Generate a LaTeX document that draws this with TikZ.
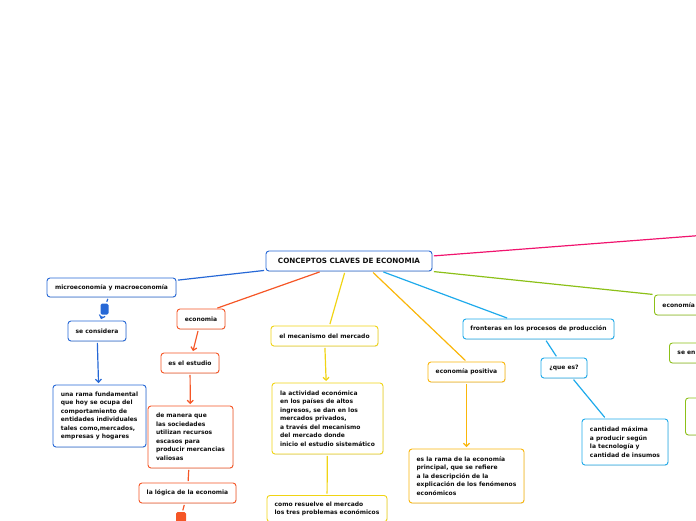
\documentclass[tikz,border=0pt]{standalone}
\usepackage{fontspec}
\setmainfont{DejaVu Sans}
\usetikzlibrary{arrows.meta,shadows}

\definecolor{cmblue}{RGB}{38,104,214}
\definecolor{cmorange}{RGB}{245,86,38}
\definecolor{cmyellow}{RGB}{240,212,20}
\definecolor{cmgold}{RGB}{250,182,10}
\definecolor{cmsky}{RGB}{30,170,235}
\definecolor{cmgreen}{RGB}{140,192,24}
\definecolor{cmpink}{RGB}{240,20,110}
\definecolor{cmtext}{RGB}{15,15,15}

\begin{document}
\begin{tikzpicture}[x=1pt, y=-1pt, font=\fontsize{6}{8.5}\selectfont\bfseries,
  topic/.style={draw, rounded corners=3pt, line width=0.9pt, fill=white, text=cmtext, align=left, inner sep=0pt, drop shadow={shadow xshift=0.5pt, shadow yshift=-0.8pt, opacity=0.2}},
  edge/.style={topic, anchor=west, inner xsep=8pt, inner ysep=0pt, minimum height=20pt},
  marker/.style={rounded corners=1.5pt, inner sep=0pt},
  link/.style={line width=1.2pt, shorten <=1.5pt, shorten >=1.5pt},
  arr/.style={link, -{Straight Barb[length=3pt, width=6pt]}}]
\useasboundingbox (0,0) rectangle (696,520);
\clip (0,0) rectangle (696,520);
% central topic
\node[topic, draw=cmblue, minimum width=166pt, minimum height=20pt, font=\fontsize{7.2}{8.5}\selectfont\bfseries] (root) at (349,261) {CONCEPTOS CLAVES DE ECONOMIA};
% blue branch
\node[topic, draw=cmblue, minimum width=129pt, minimum height=19pt] (micro) at (111.5,287.5) {microeconomía y macroeconomía};
\node[marker, fill=cmblue, minimum width=8pt, minimum height=11pt] (mk1) at (104.5,309) {};
\node[topic, draw=cmblue, minimum width=58pt, minimum height=20pt] (secons) at (97,331) {se considera};
\node[topic, draw=cmblue, minimum width=93pt, minimum height=62pt] (rama) at (99.5,416) {una rama fundamental\\que hoy se ocupa del\\comportamiento de\\entidades individuales\\tales como,mercados,\\empresas y hogares};
% orange branch
\node[topic, draw=cmorange, minimum width=48pt, minimum height=20pt] (econ) at (201,319) {economia};
\node[topic, draw=cmorange, minimum width=58pt, minimum height=20pt] (estudio) at (190,363) {es el estudio};
\node[topic, draw=cmorange, minimum width=85pt, minimum height=62pt] (manera) at (190.5,437) {de manera que\\las sociedades\\utilizan recursos\\escasos para\\producir mercancias\\valiosas};
\node[topic, draw=cmorange, minimum width=97pt, minimum height=20pt] (logica) at (187.5,493) {la lógica de la economia};
\node[marker, fill=cmorange, minimum width=10pt, minimum height=10pt] (mk2) at (181,517) {};
% yellow branch
\node[topic, draw=cmyellow, minimum width=107pt, minimum height=20pt] (mecan) at (324.5,336) {el mecanismo del mercado};
\node[topic, draw=cmyellow, minimum width=111pt, minimum height=71pt] (activ) at (327.5,418.5) {la actividad económica\\en los países de altos\\ingresos, se dan en los\\mercados privados,\\a través del mecanismo\\del mercado donde\\inicio el estudio sistemático};
\node[topic, draw=cmyellow, anchor=north, minimum width=120pt, inner ysep=6pt] (resuel) at (327,495) {como resuelve el mercado\\los tres problemas económicos};
% gold branch
\node[topic, draw=cmgold, minimum width=77pt, minimum height=20pt] (positiva) at (466.5,372) {economía positiva};
\node[topic, draw=cmgold, minimum width=115pt, minimum height=54pt] (ramapos) at (466.5,476) {es la rama de la economía\\principal, que se refiere\\a la descripción de la\\explicación de los fenómenos\\económicos};
% sky branch
\node[topic, draw=cmsky, minimum width=151pt, minimum height=20pt] (front) at (538.5,329) {fronteras en los procesos de producción};
\node[topic, draw=cmsky, minimum width=46pt, minimum height=20pt] (quees) at (564,368) {¿que es?};
\node[topic, draw=cmsky, minimum width=86pt, minimum height=46pt] (cantidad) at (625,442) {cantidad máxima\\a producir según\\la tecnología y\\cantidad de insumos};
% green branch (runs off the page)
\node[edge, draw=cmgreen, text width=60pt] (grecon) at (654,305) {economía};
\node[edge, draw=cmgreen, text width=60pt] (seen) at (669,353) {se en};
\node[edge, draw=cmgreen, text width=60pt, minimum height=37pt] (grbox) at (685,416.5) {};
\coordinate (pinkend) at (700,235.5);
% connectors
\draw[link, cmblue] (root) -- (micro);
\draw[link, cmorange] ([xshift=-28pt]root.south) -- ([xshift=15pt]econ.north);
\draw[link, cmyellow] ([xshift=-4pt]root.south) -- ([xshift=5pt]mecan.north);
\draw[link, cmgold] ([xshift=23pt]root.south) -- (positiva.north);
\draw[link, cmsky] ([xshift=33pt]root.south) -- ([xshift=-30pt]front.north);
\draw[link, cmgreen] (root.south east) -- (grecon.north west);
\draw[link, cmpink] ([yshift=5pt]root.east) -- (pinkend);
\draw[link, cmblue] (micro) -- (mk1); \draw[arr, cmblue] (mk1) -- (secons); \draw[arr, cmblue] (secons) -- (rama);
\draw[arr, cmorange] (econ) -- (estudio); \draw[arr, cmorange] (estudio) -- (manera);
\draw[link, cmorange] (manera) -- (logica); \draw[link, cmorange] (logica) -- (mk2);
\draw[arr, cmyellow] (mecan) -- (activ); \draw[link, cmyellow] (activ) -- (resuel);
\draw[arr, cmgold] (positiva) -- (ramapos);
\draw[link, cmsky] (front) -- (quees); \draw[link, cmsky] (quees) -- (cantidad);
\end{tikzpicture}
\end{document}
